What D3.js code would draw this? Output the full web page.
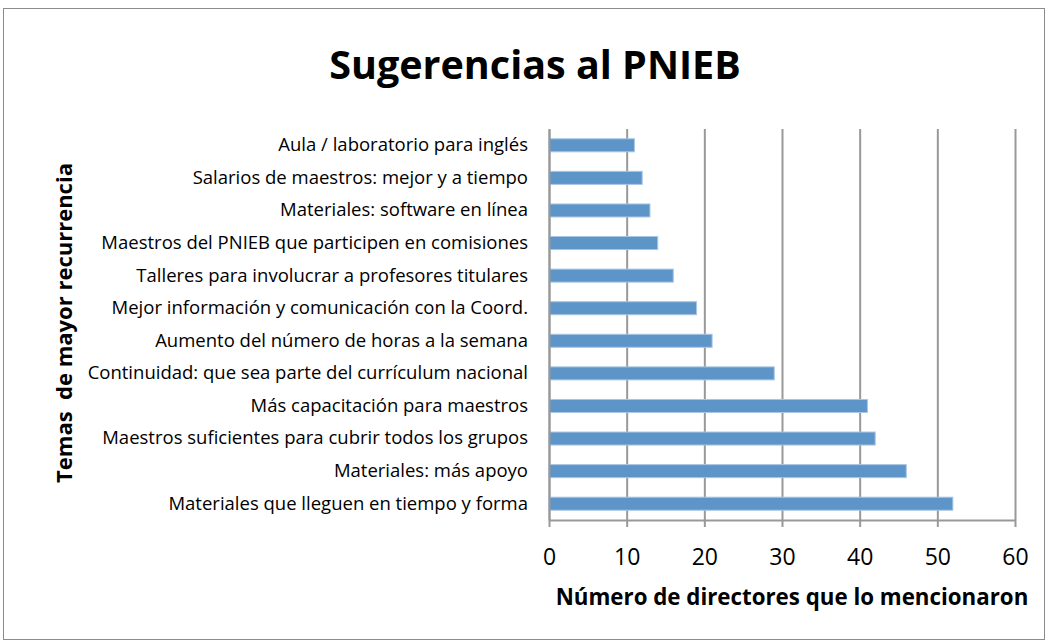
<!DOCTYPE html>
<html>
<head>
<meta charset="utf-8">
<script src="https://cdn.jsdelivr.net/npm/d3@7"></script>
<style>
  body { margin: 0; background: #fff; }
  text { font-family: "Open Sans", Lato, sans-serif; }
</style>
</head>
<body>
<svg></svg>
<script>
// categories (top to bottom) and number of directors
const categories = [
  "Aula / laboratorio para inglés",
  "Salarios de maestros: mejor y a tiempo",
  "Materiales: software en línea",
  "Maestros del PNIEB que participen en comisiones",
  "Talleres para involucrar a profesores titulares",
  "Mejor información y comunicación con la Coord.",
  "Aumento del número de horas a la semana",
  "Continuidad: que sea parte del currículum nacional",
  "Más capacitación para maestros",
  "Maestros suficientes para cubrir todos los grupos",
  "Materiales: más apoyo",
  "Materiales que lleguen en tiempo y forma"
];
const values = [11, 12, 13, 14, 16, 19, 21, 29, 41, 42, 46, 52];
const xTicks = [0, 10, 20, 30, 40, 50, 60];

const width = 1048;
const height = 643;
const plotLeft = 549, plotRight = 1015, plotTop = 129, plotBottom = 520;
const font = "'Open Sans', sans-serif";

const svg = d3.select("svg")
    .attr("width", width)
    .attr("height", height);

// chart border
svg.append("rect")
    .attr("x", 3.5).attr("y", 8.5)
    .attr("width", 1041).attr("height", 631)
    .attr("fill", "#fff")
    .attr("stroke", "#8c8c8c")
    .attr("stroke-width", 1);

// Scales
const xScale = d3.scaleLinear()
    .domain([0, 60])
    .range([plotLeft, plotRight]);

const yScale = d3.scaleBand()
    .domain(categories)
    .range([plotTop, plotBottom])
    .paddingInner(0.6)
    .paddingOuter(0.3);

// gridlines
const grid = d3.axisBottom(xScale)
    .tickValues(xTicks)
    .tickSize(-(plotBottom - plotTop))
    .tickFormat("");

svg.append("g")
    .attr("transform", `translate(0, ${plotBottom})`)
    .call(grid)
    .call(g => g.select(".domain").remove())
    .selectAll("line")
    .attr("stroke", "#999")
    .attr("stroke-width", 2);

// bars
svg.append("g")
  .selectAll("rect")
  .data(values)
  .enter()
  .append("rect")
    .attr("x", xScale(0))
    .attr("y", (d, i) => yScale(categories[i]))
    .attr("width", d => xScale(d) - xScale(0))
    .attr("height", yScale.bandwidth())
    .attr("fill", "#5e95c9")
    .attr("stroke", "#a9c6e4")
    .attr("stroke-width", 1);

// x axis
const xAxis = d3.axisBottom(xScale)
    .tickValues(xTicks)
    .tickSize(7)
    .tickSizeOuter(0);

svg.append("g")
    .attr("transform", `translate(0, ${plotBottom})`)
    .call(xAxis)
    .call(g => g.select(".domain").attr("stroke", "#999").attr("stroke-width", 2))
    .call(g => g.selectAll(".tick line").attr("stroke", "#999").attr("stroke-width", 2))
    .call(g => g.selectAll(".tick text")
        .attr("y", 45)
        .attr("dy", 0)
        .attr("font-size", 23)
        .attr("font-family", font)
        .attr("fill", "#000"));

// y axis (vertical line at 0 + labels)
const yAxis = d3.axisLeft(yScale)
    .tickSize(0)
    .tickPadding(21);

svg.append("g")
    .attr("transform", `translate(${plotLeft}, 0)`)
    .call(yAxis)
    .call(g => g.select(".domain").attr("stroke", "#999").attr("stroke-width", 2))
    .call(g => g.selectAll(".tick text")
        .attr("font-size", 18.5)
        .attr("font-family", font)
        .attr("fill", "#000"));

// title
svg.append("text")
    .text("Sugerencias al PNIEB")
    .attr("x", 535).attr("y", 79)
    .attr("text-anchor", "middle")
    .attr("font-size", 39.5)
    .attr("font-weight", "bold");

// x axis title
svg.append("text")
    .text("Número de directores que lo mencionaron")
    .attr("x", 792).attr("y", 605)
    .attr("text-anchor", "middle")
    .attr("font-size", 22.3)
    .attr("font-weight", "bold");

// y axis title
svg.append("text")
    .text("Temas  de mayor recurrencia")
    .attr("transform", "translate(72, 323) rotate(-90)")
    .attr("text-anchor", "middle")
    .attr("font-size", 22)
    .attr("font-weight", "bold")
    .style("white-space", "pre");
</script>
</body>
</html>
